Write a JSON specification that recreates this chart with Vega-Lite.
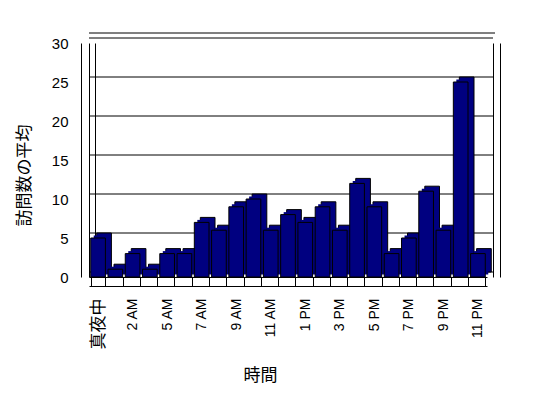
{
  "$schema": "https://vega.github.io/schema/vega-lite/v6.json",
  "autosize": "none",
  "width": 398,
  "height": 234,
  "padding": {"left": 89, "top": 43, "right": 61, "bottom": 121},
  "background": "white",
  "config": {
    "view": {"stroke": null},
    "font": "Liberation Sans",
    "axis": {"domainColor": "black", "tickColor": "black", "labelColor": "black", "titleColor": "black", "grid": false, "labelFont": "Liberation Sans, Noto Sans CJK JP", "titleFont": "Noto Sans CJK JP", "titleFontWeight": "normal"}
  },
  "datasets": {
    "visits": [
      {"hour": "真夜中", "avg": 5},
      {"hour": "1 AM", "avg": 1},
      {"hour": "2 AM", "avg": 3},
      {"hour": "3 AM", "avg": 1},
      {"hour": "5 AM", "avg": 3},
      {"hour": "6 AM", "avg": 3},
      {"hour": "7 AM", "avg": 7},
      {"hour": "8 AM", "avg": 6},
      {"hour": "9 AM", "avg": 9},
      {"hour": "10 AM", "avg": 10},
      {"hour": "11 AM", "avg": 6},
      {"hour": "12 PM", "avg": 8},
      {"hour": "1 PM", "avg": 7},
      {"hour": "2 PM", "avg": 9},
      {"hour": "3 PM", "avg": 6},
      {"hour": "4 PM", "avg": 12},
      {"hour": "5 PM", "avg": 9},
      {"hour": "6 PM", "avg": 3},
      {"hour": "7 PM", "avg": 5},
      {"hour": "8 PM", "avg": 11},
      {"hour": "9 PM", "avg": 6},
      {"hour": "10 PM", "avg": 25},
      {"hour": "11 PM", "avg": 3}
    ],
    "grid": [{"g": 0}, {"g": 5}, {"g": 10}, {"g": 15}, {"g": 20}, {"g": 25}, {"g": 30}]
  },
  "resolve": {"axis": {"x": "independent", "y": "independent"}},
  "layer": [
    {
      "data": {"name": "grid"},
      "mark": {"type": "rule", "color": "black", "strokeWidth": 1, "xOffset": 6, "yOffset": -5},
      "encoding": {
        "y": {"field": "g", "type": "quantitative", "scale": {"domain": [0, 30], "nice": false},
          "axis": {"orient": "left", "offset": 8, "values": [0, 5, 10, 15, 20, 25, 30], "ticks": false, "labelPadding": 13, "labelFontSize": 15, "title": "訪問数の平均", "titleFontSize": 17, "titlePadding": 18, "titleY": 132}}
      }
    },
    {
      "data": {"values": [{"g": 30}]},
      "mark": {"type": "rule", "color": "black", "strokeWidth": 1, "xOffset": 8, "yOffset": -10},
      "encoding": {
        "y": {"field": "g", "type": "quantitative",
          "axis": {"orient": "right", "offset": 13, "labels": false, "ticks": false, "title": null}}
      }
    },
    {
      "data": {"name": "visits"},
      "mark": {"type": "bar", "color": "#000080", "stroke": "black", "strokeWidth": 1, "xOffset": 6, "yOffset": -5},
      "encoding": {
        "x": {"field": "hour", "type": "nominal", "sort": null, "scale": {"paddingInner": 0.15, "paddingOuter": 0.1},
          "axis": {"orient": "bottom", "offset": 9, "labels": false, "ticks": false, "title": null}},
        "y": {"field": "avg", "type": "quantitative",
          "axis": {"orient": "right", "offset": 6, "labels": false, "ticks": false, "title": null}}
      }
    },
    {
      "data": {"name": "visits"},
      "mark": {"type": "bar", "color": "#000080", "strokeWidth": 0, "xOffset": 3, "yOffset": -2.5},
      "encoding": {
        "x": {"field": "hour", "type": "nominal", "sort": null, "axis": null},
        "y": {"field": "avg", "type": "quantitative",
          "axis": {"orient": "left", "offset": 0, "labels": false, "ticks": false, "title": null}}
      }
    },
    {
      "data": {"name": "visits"},
      "mark": {"type": "bar", "color": "#000080", "stroke": "black", "strokeWidth": 1},
      "encoding": {
        "x": {"field": "hour", "type": "nominal", "sort": null,
          "axis": {"orient": "bottom", "offset": 0, "ticks": true, "tickBand": "extent", "tickSize": 9, "labelAngle": -90, "labelPadding": 12,
            "labelFontSize": {"condition": {"test": "datum.value === '真夜中'", "value": 17}, "value": 14},
            "labelExpr": "indexof(['真夜中','2 AM','5 AM','7 AM','9 AM','11 AM','1 PM','3 PM','5 PM','7 PM','9 PM','11 PM'], datum.value) >= 0 ? datum.label : ''",
            "title": "時間", "titleFontSize": 17, "titleX": 171, "titleY": 98, "titleBaseline": "middle"}},
        "y": {"field": "avg", "type": "quantitative",
          "axis": {"orient": "left", "offset": -6, "labels": false, "ticks": false, "title": null}}
      }
    }
  ]
}
